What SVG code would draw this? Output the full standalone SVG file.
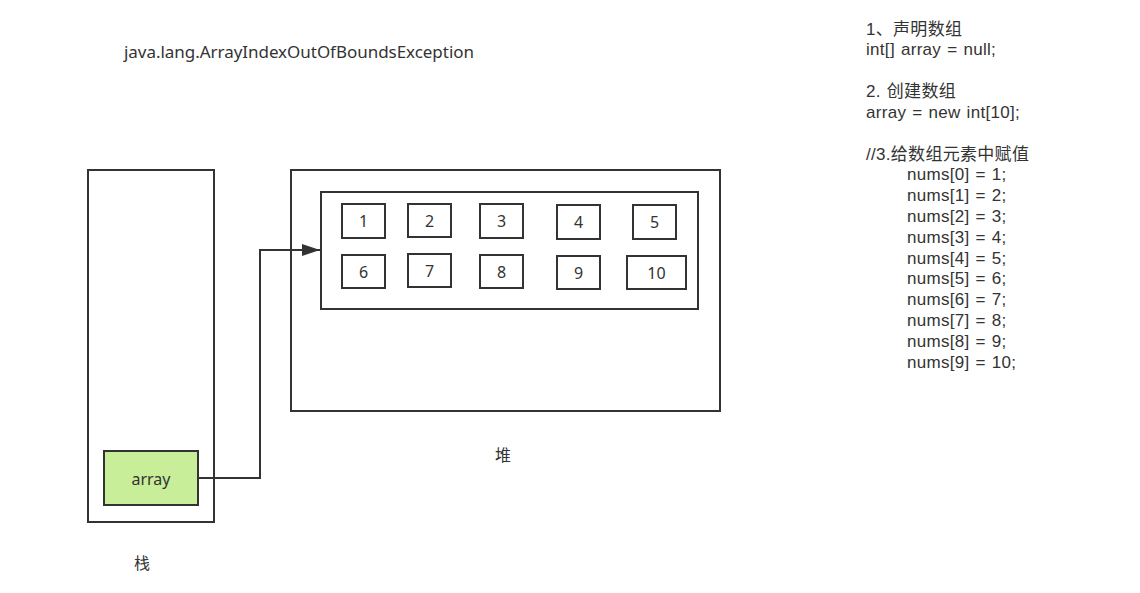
<svg xmlns="http://www.w3.org/2000/svg" width="1140" height="593" viewBox="0 0 1140 593">
<style>
.box{fill:none;stroke:#333;stroke-width:2}
.cell{fill:#fff;stroke:#333;stroke-width:2}
.t{font-family:"Noto Sans","Noto Sans CJK SC",sans-serif;font-size:16.5px;fill:#333}
.code{font-family:"Liberation Sans","Noto Sans CJK SC",sans-serif;font-size:17px;fill:#333;letter-spacing:0.3px;word-spacing:1px}
.c{font-family:"Noto Sans","Noto Sans CJK SC",sans-serif;font-size:16px;fill:#333;text-anchor:middle;dominant-baseline:central}
.conn{fill:none;stroke:#333;stroke-width:2}
</style>
<defs>
<marker id="arr" markerWidth="18" markerHeight="14" refX="18" refY="7" orient="auto" markerUnits="userSpaceOnUse" viewBox="0 0 18 14">
<path d="M0,1 L18,7 L0,13 z" fill="#333"/>
</marker>
</defs>
<rect width="1140" height="593" fill="#fff"/>
<text class="t" x="124" y="58" style="font-size:17px" textLength="350">java.lang.ArrayIndexOutOfBoundsException</text>
<g id="stack">
<rect class="box" x="88" y="170" width="126" height="352"/>
<text class="c" x="142" y="563">栈</text>
</g>
<g id="array">
<rect x="104" y="451" width="94" height="54" fill="#c8ee9a" stroke="#333" stroke-width="2"/>
<text class="c" x="151" y="479">array</text>
</g>
<g id="heap">
<rect class="box" x="291" y="170" width="429" height="241"/>
<text class="c" x="503" y="455">堆</text>
</g>
<g id="arrayObj">
<rect class="box" x="321" y="192" width="377" height="117"/>
</g>
<g id="cell1"><rect class="cell" x="342" y="204" width="43" height="34"/><text class="c" x="363.5" y="221">1</text></g>
<g id="cell2"><rect class="cell" x="408" y="204" width="43" height="33"/><text class="c" x="429.5" y="220.5">2</text></g>
<g id="cell3"><rect class="cell" x="480" y="204" width="43" height="34"/><text class="c" x="501.5" y="221">3</text></g>
<g id="cell4"><rect class="cell" x="557" y="205" width="43" height="34"/><text class="c" x="578.5" y="222">4</text></g>
<g id="cell5"><rect class="cell" x="633" y="205" width="43" height="34"/><text class="c" x="654.5" y="222">5</text></g>
<g id="cell6"><rect class="cell" x="342" y="255" width="43" height="33"/><text class="c" x="363.5" y="271.5">6</text></g>
<g id="cell7"><rect class="cell" x="408" y="254" width="43" height="33"/><text class="c" x="429.5" y="270.5">7</text></g>
<g id="cell8"><rect class="cell" x="480" y="255" width="43" height="33"/><text class="c" x="501.5" y="271.5">8</text></g>
<g id="cell9"><rect class="cell" x="557" y="256" width="43" height="33"/><text class="c" x="578.5" y="272.5">9</text></g>
<g id="cell10"><rect class="cell" x="627" y="256" width="59" height="33"/><text class="c" x="656.5" y="272.5">10</text></g>
<g id="connectors">
<path class="conn" d="M198,478 H260 V250 H320" marker-end="url(#arr)"/>
</g>
<g id="code" class="code">
<text x="866" y="35">1、声明数组</text>
<text x="866" y="55">int[] array = null;</text>
<text x="866" y="97">2. 创建数组</text>
<text x="866" y="118">array = new int[10];</text>
<text x="866" y="160">//3.给数组元素中赋值</text>
<text x="907" y="180">nums[0] = 1;</text>
<text x="907" y="201">nums[1] = 2;</text>
<text x="907" y="222">nums[2] = 3;</text>
<text x="907" y="243">nums[3] = 4;</text>
<text x="907" y="264">nums[4] = 5;</text>
<text x="907" y="284">nums[5] = 6;</text>
<text x="907" y="305">nums[6] = 7;</text>
<text x="907" y="326">nums[7] = 8;</text>
<text x="907" y="347">nums[8] = 9;</text>
<text x="907" y="368">nums[9] = 10;</text>
</g>
</svg>
